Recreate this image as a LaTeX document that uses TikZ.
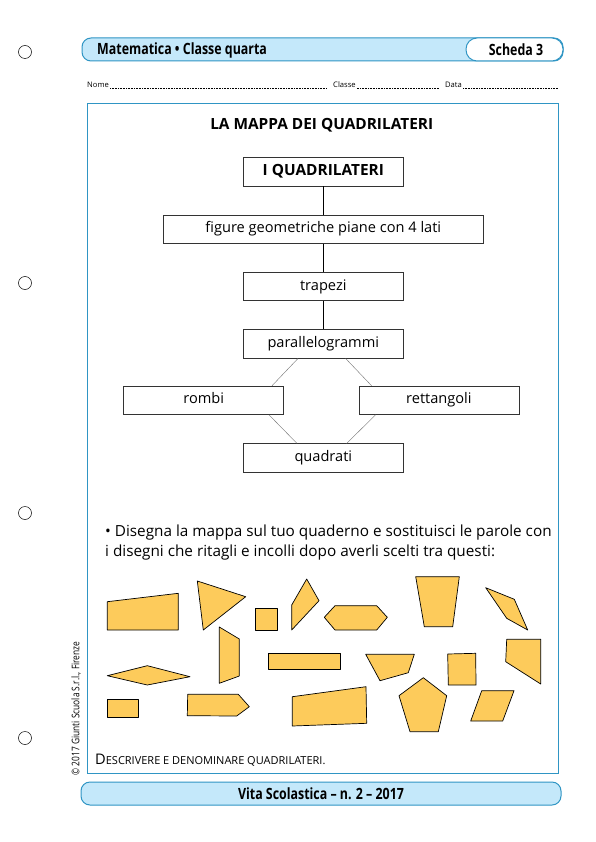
\documentclass[tikz,border=0pt]{standalone}
\usepackage{fontspec}
\setmainfont{Open Sans}
\newfontfamily\condfont[FakeStretch=0.8]{Open Sans}
\usetikzlibrary{positioning}

\definecolor{barblue}{HTML}{C4E8FA}
\definecolor{lineblue}{HTML}{2F95C4}
\definecolor{piecefill}{HTML}{FDCB5B}

\newcommand{\fakesc}[1]{{\fontsize{11}{13}\selectfont\MakeUppercase{#1}}}

\begin{document}
\begin{tikzpicture}[
    x=1pt, y=-1pt,
    mapbox/.style={
        draw=black!80,
        line width=0.6pt,
        minimum width=160pt,
        minimum height=28.5pt,
        inner sep=0pt,
        text height=10.5pt,
        text depth=3.5pt,
        font=\fontsize{14.6}{17}\selectfont
    },
    link/.style={line width=0.7pt},
    thinlink/.style={draw=black!55, line width=0.4pt},
    piece/.style={draw=black, fill=piecefill, line width=0.7pt, line join=round},
    hole/.style={draw=black, line width=0.5pt},
    bar/.style={draw=lineblue, fill=barblue, line width=1pt, rounded corners=9pt},
    barfont/.style={font=\condfont\bfseries\fontsize{15.5}{17}\selectfont},
    small/.style={inner sep=0pt, anchor=base west, font=\fontsize{7.6}{9}\selectfont},
    dots/.style={line width=0.5pt, dash pattern=on 0.5pt off 1.1pt}
]
\useasboundingbox (0,0) rectangle (595,842);
\fill[white] (0,0) rectangle (595,842);

% punch holes
\foreach \y in {52,283,513,738}
    \draw[hole] (25,\y) circle (6.5pt);

% header
\draw[bar] (82,38) rectangle (563,61);
\draw[bar, fill=white, rounded corners=11pt] (466,38) rectangle (563,61);
\node[barfont, anchor=base west, inner sep=0pt] (subject) at (97,55) {Matematica • Classe quarta};
\node[barfont] (sheet) at (516,49.5) {Scheda 3};

% name line
\node[small] (nome) at (87,88) {Nome};
\node[small] (classe) at (333,88) {Classe};
\node[small] (data) at (445,88) {Data};
\coordinate (nomeend) at (327,88);
\coordinate (classeend) at (440,88);
\coordinate (dataend) at (558,88);
\draw[dots] ([xshift=1pt]nome.base east) -- (nomeend);
\draw[dots] ([xshift=1pt]classe.base east) -- (classeend);
\draw[dots] ([xshift=1pt]data.base east) -- (dataend);

% frame
\draw[lineblue, line width=1pt] (87,104) rectangle (558,773);

% the map
\node[font=\bfseries\fontsize{15.4}{18}\selectfont] (title) at (321.7,125) {LA MAPPA DEI QUADRILATERI};
\node[mapbox, font=\bfseries\fontsize{15.4}{18}\selectfont] (quad) at (323.3,171.7) {I QUADRILATERI};
\node[mapbox, minimum width=320pt, below=28.3pt of quad] (figure) {figure geometriche piane con 4 lati};
\node[mapbox, below=28.3pt of figure] (trap) {trapezi};
\node[mapbox, below=28.3pt of trap] (para) {parallelogrammi};
\node[mapbox, below left=27.3pt and -41pt of para] (rombi) {rombi};
\node[mapbox, below right=27.3pt and -45pt of para] (rett) {rettangoli};
\node[mapbox, below=85pt of para] (quadr) {quadrati};

\draw[link] (quad) -- (figure);
\draw[link] (figure) -- (trap);
\draw[link] (trap) -- (para);
\draw[thinlink] ([xshift=55pt]para.south west) -- ([xshift=-12pt]rombi.north east);
\draw[thinlink] ([xshift=-58pt]para.south east) -- ([xshift=13pt]rett.north west);
\draw[thinlink] ([xshift=-15pt]rombi.south east) -- ([xshift=54pt]quadr.north west);
\draw[thinlink] ([xshift=17pt]rett.south west) -- ([xshift=-57pt]quadr.north east);

% task
\node[inner sep=0pt, anchor=base west, font=\fontsize{15.3}{20}\selectfont] (task1) at (105,536) {• Disegna la mappa sul tuo quaderno e sostituisci le parole con};
\node[inner sep=0pt, anchor=base west, font=\fontsize{15.3}{20}\selectfont] (task2) at (105,556) {i disegni che ritagli e incolli dopo averli scelti tra questi:};

% pieces to cut out
\draw[piece] (107.3,601.7) -- (178.3,593.3) -- (178.3,630) -- (107.3,630) -- cycle;
\draw[piece] (197.3,581) -- (245.7,596.7) -- (203.3,630) -- cycle;
\draw[piece] (255.7,608.3) rectangle (277.3,630);
\draw[piece] (291.7,605) -- (306.7,579) -- (319,600.7) -- (291.7,630) -- cycle;
\draw[piece] (324.3,617.3) -- (335,605.7) -- (376.7,605.7) -- (387.3,617.3) -- (376.7,630) -- (335,630) -- cycle;
\draw[piece] (415.7,576.7) -- (459.3,576.7) -- (452.7,626.7) -- (424.3,626.7) -- cycle;
\draw[piece] (485.7,587.7) -- (514.3,599.3) -- (527.7,630) -- (506.7,618.3) -- cycle;
\draw[piece] (219.3,627) -- (239.3,639) -- (239.3,676) -- (219.3,683.3) -- cycle;
\draw[piece] (107.3,675.7) -- (147.3,665.7) -- (190,676.7) -- (147.3,685) -- cycle;
\draw[piece] (268.3,653.3) rectangle (340.7,669.3);
\draw[piece] (365.7,654.3) -- (414.3,654.3) -- (408.3,672.7) -- (380,680.7) -- cycle;
\draw[piece] (447.7,654) -- (475.7,653.3) -- (476,685) -- (448.3,685) -- cycle;
\draw[piece] (506.7,639.3) -- (540.7,639.3) -- (540.7,684) -- (505.7,661.7) -- cycle;
\draw[piece] (107.3,699.3) rectangle (138.3,717.3);
\draw[piece] (187.7,694.3) -- (238.3,694.3) -- (249.3,706.7) -- (236.7,716) -- (187.3,715.7) -- cycle;
\draw[piece] (292.3,696.7) -- (366,686.7) -- (366.7,723.3) -- (292.3,726) -- cycle;
\draw[piece] (423.3,677.7) -- (446.7,695.7) -- (438.3,731.7) -- (410,731.7) -- (399,695.7) -- cycle;
\draw[piece] (481.7,690.7) -- (514,690.7) -- (502.7,721) -- (470.7,721) -- cycle;

% goal
\node[inner sep=0pt, anchor=base west, font=\fontsize{14.6}{16}\selectfont] (goal) at (95,764) {D\fakesc{escrivere e denominare quadrilateri.}};

% copyright
\node[rotate=90, font=\condfont\fontsize{10.5}{12}\selectfont] (copy) at (76,708.5) {© 2017 Giunti Scuola S.r.l., Firenze};

% footer
\draw[bar] (81,782) rectangle (561,805);
\node[barfont] (issue) at (321,793.5) {Vita Scolastica – n. 2 – 2017};
\end{tikzpicture}
\end{document}
